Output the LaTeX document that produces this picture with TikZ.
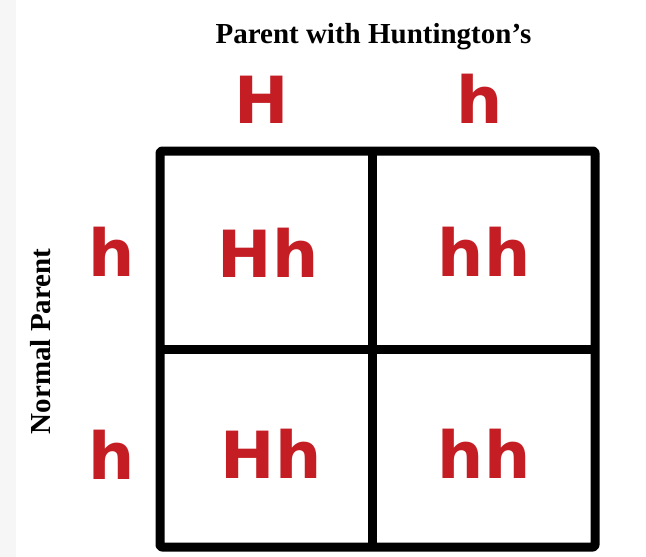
\documentclass[tikz,border=0pt]{standalone}
\usepackage{fontspec}
\setmainfont{Liberation Serif}
\newfontfamily\lettfont{DejaVu Sans}
\definecolor{allelered}{HTML}{C41E24}
\definecolor{bandgrey}{HTML}{F6F6F6}
\begin{document}
\begin{tikzpicture}[x=1pt,y=-1pt,
  gridline/.style={line width=9pt,line cap=round,line join=round,black},
  allele/.style={inner sep=0pt,anchor=base,text=allelered,
    font=\lettfont\bfseries\fontsize{65}{65}\selectfont},
  caption/.style={inner sep=0pt,anchor=base,
    font=\bfseries\fontsize{29}{29}\selectfont}]
\useasboundingbox (0,0) rectangle (646,557);
\fill[white] (0,0) rectangle (646,557);
\fill[bandgrey] (0,0) rectangle (16,557);
% grid
\coordinate (tl) at (160,151);
\coordinate (br) at (595,547);
\draw[gridline,rounded corners=2pt] (tl) rectangle (br);
\coordinate (vt) at (372.5,151);
\coordinate (vb) at (372.5,547);
\coordinate (hl) at (160,349);
\coordinate (hr) at (595,349);
\draw[gridline,line cap=butt] (vt) -- (vb);
\draw[gridline,line cap=butt] (hl) -- (hr);
% captions
\node[caption] (top) at (373.5,43) {Parent with Huntington’s};
\node[caption,rotate=90] (side) at (50,341.5) {Normal Parent};
% alleles
\foreach \n/\x/\y/\t in {pH/262/123/H, ph/480/123/h, r1/112/276/h, r2/112/479/h,
  c11/268/277/Hh, c12/484/276/hh, c21/271/478/Hh, c22/484/478/hh}{
  \node[allele] (\n) at (\x,\y) {\t};
}
\end{tikzpicture}
\end{document}
